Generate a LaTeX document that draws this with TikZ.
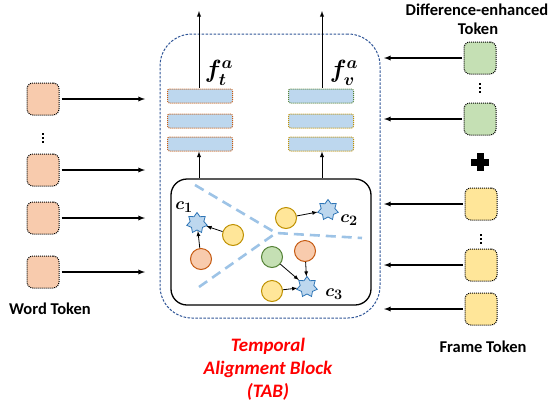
\documentclass[tikz,border=0pt]{standalone}
\usepackage{amsmath}
\usepackage{amssymb}
\usepackage{fontspec}
\setmainfont{Carlito}
\usetikzlibrary{shapes,arrows,positioning}
\definecolor{wordfill}{HTML}{F8CBAD}
\definecolor{wordline}{HTML}{C55A11}
\definecolor{difffill}{HTML}{C5E0B4}
\definecolor{diffline}{HTML}{548235}
\definecolor{framefill}{HTML}{FFE699}
\definecolor{frameline}{HTML}{BF9000}
\definecolor{barfill}{HTML}{BDD7EE}
\definecolor{splitline}{HTML}{9DC3E6}
\definecolor{tabline}{HTML}{2F5597}
\definecolor{starline}{HTML}{2E75B6}

\begin{document}
\begin{tikzpicture}[x=1pt, y=-1pt, >=latex,
    token/.style={draw=black, line width=1pt, dash pattern=on 1pt off 1pt, rounded corners=6pt, minimum size=32pt, inner sep=0pt},
    feat/.style={line width=1pt, dash pattern=on 1pt off 1pt, fill=barfill, rounded corners=2pt, minimum width=65pt, minimum height=14pt, inner sep=0pt},
    dot/.style={circle, draw, line width=1pt, minimum size=21pt, inner sep=0pt},
    center/.style={star, star points=7, star point ratio=1.5, draw=starline, line width=0.8pt, fill=barfill, minimum size=21pt, inner sep=0pt},
    label/.style={font=\bfseries\fontsize{16.5}{18}\selectfont},
    feed/.style={->, line width=1.3pt},
    link/.style={->, line width=0.8pt}]
\useasboundingbox (0,0) rectangle (552,408);

% temporal alignment block
\node (tab) at (270,176) [draw=tabline, line width=1pt, dash pattern=on 2.5pt off 1.5pt, rounded corners=32pt, minimum width=220pt, minimum height=284pt] {};
\node (inner) at (271,242) [draw, line width=1.3pt, rounded corners=16pt, minimum width=200pt, minimum height=126pt] {};

% feature bars
\node (ta) at (200,96) [feat, draw=wordline] {};
\node (tb) at (200,121) [feat, draw=wordline] {};
\node (tc) at (200,144) [feat, draw=wordline] {};
\node (va) at (321,96) [feat, draw=diffline] {};
\node (vb) at (321,121) [feat, draw=frameline] {};
\node (vc) at (321,144) [feat, draw=frameline] {};
\node (ft) at (219,73) {\fontsize{24}{24}\selectfont$\boldsymbol{f_t^a}$};
\node (fv) at (344,73) {\fontsize{24}{24}\selectfont$\boldsymbol{f_v^a}$};
\coordinate (tout) at (199,11);
\coordinate (vout) at (322,11);
\draw[->, line width=0.9pt] (199,88) -- (tout);
\draw[->, line width=0.9pt] (322,88) -- (vout);
\draw[->, line width=0.9pt] (199,178) -- (tc.south -| 199,0);
\draw[->, line width=0.9pt] (322,178) -- (vc.south -| 322,0);

% clusters
\coordinate (mid) at (276,233);
\draw[splitline, line width=2.6pt, dash pattern=on 10pt off 6pt] (195,185) -- (mid) -- (362,238);
\draw[splitline, line width=2.6pt, dash pattern=on 10pt off 6pt] (199,287) -- (mid);
\node (c1) at (197,223) [center] {};
\node (c2) at (328,210) [center] {};
\node (c3) at (307,287) [center] {};
\node at (184,207) {\fontsize{19}{19}\selectfont$\boldsymbol{c_1}$};
\node at (349,220) {\fontsize{19}{19}\selectfont$\boldsymbol{c_2}$};
\node at (334,294) {\fontsize{19}{19}\selectfont$\boldsymbol{c_3}$};
\node (y1) at (233,235) [dot, draw=frameline, fill=framefill] {};
\node (o1) at (201,259) [dot, draw=wordline, fill=wordfill] {};
\node (y2) at (286,218) [dot, draw=frameline, fill=framefill] {};
\node (g1) at (272,257) [dot, draw=diffline, fill=difffill] {};
\node (o2) at (305,251) [dot, draw=wordline, fill=wordfill] {};
\node (y3) at (272,291) [dot, draw=frameline, fill=framefill] {};
\draw[link] (y1) -- (c1);
\draw[link] (o1) -- (c1);
\draw[link] (y2) -- (c2);
\draw[link] (g1) -- (c3);
\draw[link] (o2) -- (c3);
\draw[link] (y3) -- (c3);

% word tokens
\node (w1) at (43,99) [token, fill=wordfill] {};
\node (w2) at (43,170) [token, fill=wordfill] {};
\node (w3) at (43,218) [token, fill=wordfill] {};
\node (w4) at (43,272) [token, fill=wordfill] {};
\coordinate (wdots) at (43,138);
\node (wlabel) at (50,309) [label] {Word Token};
\foreach \w in {w1,w2,w3,w4} {
  \coordinate (\w end) at (145,0 |- \w);
  \draw[feed] (\w.east) ++(2,0) -- (\w end);
}

% difference-enhanced tokens
\node (d1) at (480,58) [token, fill=difffill] {};
\node (d2) at (480,119) [token, fill=difffill] {};
\coordinate (ddots) at (480,88);
\node (dlabel) at (477,10) [label] {Difference-enhanced};
\node (dlabel2) at (478,29) [label] {Token};
\coordinate (plus) at (480,162);
\fill ([xshift=-9pt, yshift=-3.5pt]plus) rectangle ([xshift=9pt, yshift=3.5pt]plus);
\fill ([xshift=-3.5pt, yshift=-9pt]plus) rectangle ([xshift=3.5pt, yshift=9pt]plus);

% frame tokens
\node (v1) at (481,204) [token, fill=framefill] {};
\node (v2) at (481,265) [token, fill=framefill] {};
\node (v3) at (481,309) [token, fill=framefill] {};
\coordinate (vdots) at (481,239);
\node (vlabel) at (483,347) [label] {Frame Token};
\foreach \v in {d1,d2,v1,v2,v3} {
  \coordinate (\v end) at (384,0 |- \v);
  \draw[feed] (\v.west) ++(-2,0) -- (\v end);
}
\foreach \p in {wdots,ddots,vdots}
  \foreach \k in {-4,0,4}
    \fill ([xshift=-1.2pt, yshift=\k pt-1.2pt]\p) rectangle ([xshift=1.2pt, yshift=\k pt+1.2pt]\p);

% block name
\node (tabname) at (268,369) [align=center, text=red, font=\bfseries\itshape\fontsize{19}{23}\selectfont] {Temporal\\Alignment Block\\(TAB)};
\end{tikzpicture}
\end{document}
